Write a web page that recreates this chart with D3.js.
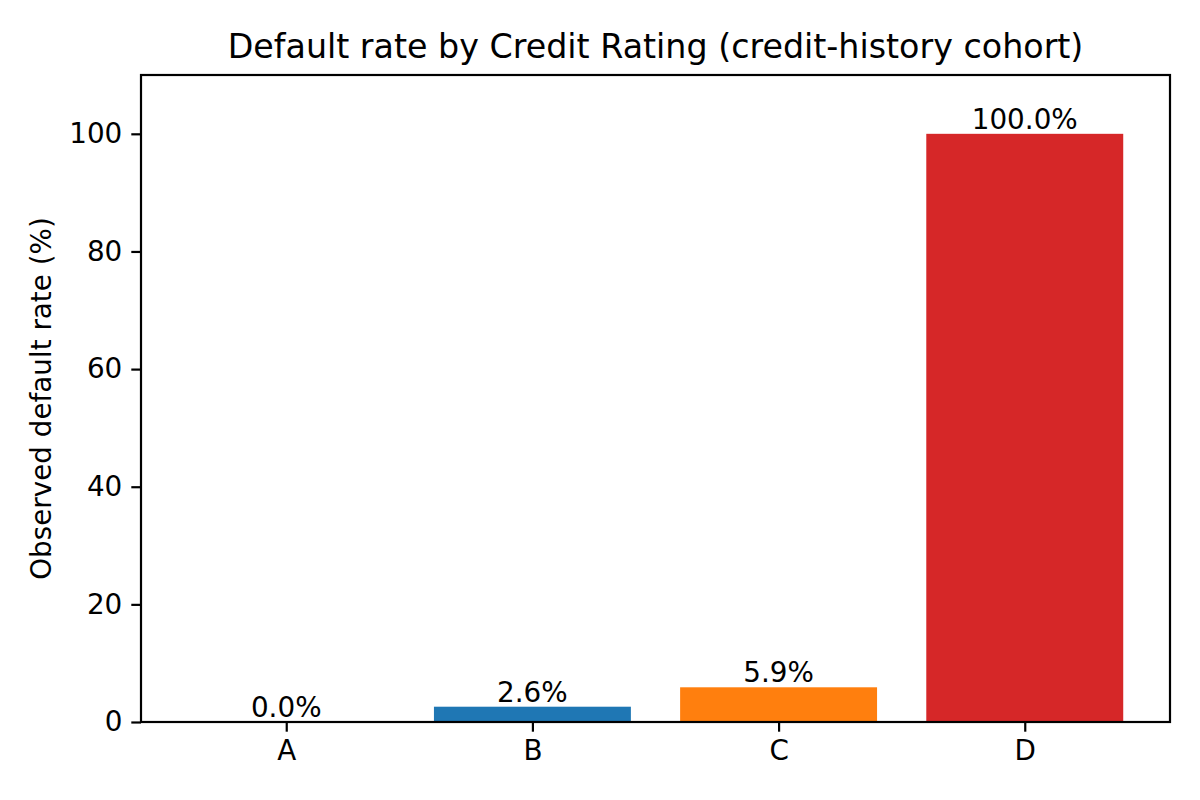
<!DOCTYPE html>
<html>
<head>
<meta charset="utf-8">
<script src="https://cdn.jsdelivr.net/npm/d3@7"></script>
<style>
  body { margin: 0; background: #fff; }
  text { font-family: "DejaVu Sans", sans-serif; fill: #000; }
</style>
</head>
<body>
<svg id="chart" width="1200" height="800"></svg>
<script>
const ratings = ['A', 'B', 'C', 'D'];
const defaultRates = [0.0, 2.6, 5.9, 100.0];
const barColors = ['#2ca02c', '#1f77b4', '#ff7f0e', '#d62728'];
const yTicks = [0, 20, 40, 60, 80, 100];

const margin = { top: 75, right: 30, bottom: 78, left: 141 };
const width = 1200, height = 800;
const fs = 27.8;

const svg = d3.select('#chart');

const x = d3.scaleLinear()
  .domain([-0.59, ratings.length - 1 + 0.59])
  .range([margin.left, width - margin.right]);
const y = d3.scaleLinear()
  .domain([0, 110])
  .range([height - margin.bottom, margin.top]);

const barWidth = x(0.8) - x(0);

// bars
svg.selectAll('.bar')
  .data(defaultRates)
  .enter().append('rect')
    .attr('class', 'bar')
    .attr('x', (d, i) => x(i) - barWidth / 2)
    .attr('y', d => y(d))
    .attr('width', barWidth)
    .attr('height', d => y(0) - y(d))
    .attr('fill', (d, i) => barColors[i]);

// value labels
svg.selectAll('.val')
  .data(defaultRates)
  .enter().append('text')
    .attr('class', 'val')
    .attr('x', (d, i) => x(i))
    .attr('y', d => y(d) - 5)
    .attr('text-anchor', 'middle')
    .style('font-size', fs + 'px')
    .text(d => d.toFixed(1) + '%');

// axes
const xAxis = d3.axisBottom(x)
  .tickValues(d3.range(ratings.length))
  .tickFormat(i => ratings[i])
  .tickSize(9.7).tickPadding(9);
const gx = svg.append('g')
  .attr('transform', `translate(0,${height - margin.bottom})`)
  .call(xAxis)
  .attr('font-size', null).attr('font-family', null);
gx.select('.domain').remove();
gx.selectAll('text').style('font-size', fs + 'px');

const yAxis = d3.axisLeft(y).tickValues(yTicks).tickSize(9.7).tickPadding(9);
const gy = svg.append('g')
  .attr('transform', `translate(${margin.left},0)`)
  .call(yAxis)
  .attr('font-size', null).attr('font-family', null);
gy.select('.domain').remove();
gy.selectAll('text').style('font-size', fs + 'px');

svg.selectAll('.tick line').attr('stroke', '#000').attr('stroke-width', 2.2);

// frame
svg.append('rect')
  .attr('x', margin.left)
  .attr('y', margin.top)
  .attr('width', width - margin.left - margin.right)
  .attr('height', height - margin.top - margin.bottom)
  .attr('fill', 'none')
  .attr('stroke', '#000')
  .attr('stroke-width', 2.2);

// title
svg.append('text')
  .attr('x', (margin.left + width - margin.right) / 2)
  .attr('y', 58)
  .attr('text-anchor', 'middle')
  .style('font-size', '33.3px')
  .text('Default rate by Credit Rating (credit-history cohort)');

// y label
svg.append('text')
  .attr('transform', `translate(51,${(margin.top + height - margin.bottom) / 2}) rotate(-90)`)
  .attr('text-anchor', 'middle')
  .style('font-size', fs + 'px')
  .text('Observed default rate (%)');
</script>
</body>
</html>
